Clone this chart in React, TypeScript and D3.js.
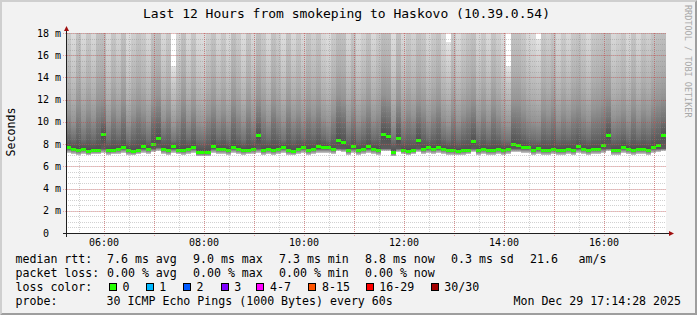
import React, { useEffect } from "react";
import * as d3 from "d3";

// ---------- data ----------
const TITLE = "Last 12 Hours from smokeping to Haskovo (10.39.0.54)";
const Y_LABEL = "Seconds";
const SIDE_TEXT = "RRDTOOL / TOBI OETIKER";
const START = new Date(2025, 11, 29, 5, 14, 28);
const END = new Date(2025, 11, 29, 17, 14, 28);
const STEP_MINUTES = 6;

// median round trip time per 6-minute column (ms)
const medianRtt = [
  7.7, 7.6, 7.5, 7.6, 7.4, 7.5, 7.5, 8.9, 7.5, 7.5,
  7.6, 7.7, 7.5, 7.4, 7.5, 7.8, 7.6, 8.0, 8.55, 7.6,
  7.5, 7.8, 7.5, 7.5, 7.6, 7.7, 7.3, 7.3, 7.3, 7.8,
  7.6, 7.6, 7.5, 7.7, 7.6, 7.5, 7.5, 7.6, 8.85, 7.5,
  7.6, 7.5, 7.6, 7.7, 7.5, 7.4, 7.6, 7.7, 7.5, 7.6,
  7.8, 7.7, 7.75, 7.6, 8.4, 8.15, 7.5, 7.8, 7.5, 7.6,
  7.8, 7.6, 7.5, 8.9, 8.7, 7.3, 8.55, 7.5, 7.4, 7.5,
  8.4, 7.6, 7.75, 7.6, 7.7, 7.6, 7.5, 7.5, 7.4, 7.5,
  7.5, 8.25, 7.5, 7.6, 7.5, 7.5, 7.6, 7.5, 7.6, 8.05,
  7.9, 7.7, 7.7, 7.5, 7.65, 7.5, 7.5, 7.6, 7.5, 7.5,
  7.6, 7.5, 7.8, 7.6, 7.5, 7.6, 7.6, 7.9, 8.85, 7.5,
  7.5, 7.75, 7.6, 7.5, 7.6, 7.6, 7.5, 7.75, 7.9, 8.8,
];

// smoke: lowest ping
const pingMin = [
  7.2, 7.1, 7.0, 7.1, 7.0, 7.1, 7.1, 7.2, 7.0, 7.1,
  7.1, 7.2, 7.0, 7.0, 7.1, 7.2, 7.1, 7.3, 7.4, 7.1,
  7.0, 7.2, 7.1, 7.0, 7.1, 7.2, 6.9, 6.9, 6.9, 7.2,
  7.1, 7.1, 7.0, 7.2, 7.1, 7.0, 7.1, 7.1, 7.2, 7.0,
  7.1, 7.0, 7.1, 7.2, 7.0, 7.0, 7.1, 7.2, 7.0, 7.1,
  7.2, 7.2, 7.2, 7.1, 7.4, 7.3, 7.0, 7.2, 7.0, 7.1,
  7.2, 7.1, 7.0, 7.4, 7.4, 6.9, 7.3, 7.1, 7.0, 7.1,
  7.3, 7.1, 7.2, 7.1, 7.2, 7.1, 7.0, 7.0, 7.0, 7.0,
  7.1, 7.3, 7.0, 7.1, 7.0, 7.0, 7.1, 7.0, 7.1, 7.3,
  7.3, 7.2, 7.2, 7.0, 7.1, 7.0, 7.0, 7.1, 7.0, 7.0,
  7.1, 7.0, 7.2, 7.1, 7.0, 7.1, 7.1, 7.2, 7.4, 7.0,
  7.0, 7.2, 7.1, 7.0, 7.1, 7.1, 7.0, 7.2, 7.3, 7.4,
];

// smoke: lower quartile ping
const pingQ25 = [
  7.6, 7.5, 7.4, 7.5, 7.3, 7.4, 7.4, 7.6, 7.4, 7.4,
  7.5, 7.6, 7.4, 7.3, 7.4, 7.6, 7.5, 7.6, 7.7, 7.5,
  7.4, 7.6, 7.4, 7.4, 7.5, 7.6, 7.2, 7.2, 7.2, 7.6,
  7.5, 7.5, 7.4, 7.6, 7.5, 7.4, 7.4, 7.5, 7.6, 7.4,
  7.5, 7.4, 7.5, 7.6, 7.4, 7.3, 7.5, 7.6, 7.4, 7.5,
  7.6, 7.6, 7.6, 7.5, 7.6, 7.6, 7.4, 7.6, 7.4, 7.5,
  7.6, 7.5, 7.4, 7.6, 7.6, 7.2, 7.6, 7.4, 7.3, 7.4,
  7.6, 7.5, 7.6, 7.5, 7.6, 7.5, 7.4, 7.4, 7.3, 7.4,
  7.4, 7.6, 7.4, 7.5, 7.4, 7.4, 7.5, 7.4, 7.5, 7.6,
  7.6, 7.6, 7.6, 7.4, 7.5, 7.4, 7.4, 7.5, 7.4, 7.4,
  7.5, 7.4, 7.6, 7.5, 7.4, 7.5, 7.5, 7.6, 7.6, 7.4,
  7.4, 7.6, 7.5, 7.4, 7.5, 7.5, 7.4, 7.6, 7.6, 7.6,
];

// smoke: upper ping levels (ms), from dense to sparse
const pingUp1 = [
  9.0, 8.6, 9.5, 8.5, 9.2, 8.7, 9.6, 10.1, 8.5, 9.4,
  8.8, 9.8, 8.4, 9.0, 9.6, 9.1, 8.5, 9.9, 10.3, 8.8,
  9.3, 8.3, 8.8, 9.7, 8.6, 9.4, 8.5, 8.4, 9.0, 9.6,
  8.7, 9.2, 8.5, 9.8, 8.9, 8.4, 9.4, 8.7, 10.2, 9.1,
  8.6, 9.7, 9.0, 8.4, 9.5, 8.7, 9.2, 8.6, 9.4, 8.9,
  9.5, 8.8, 8.4, 9.1, 10.4, 10.1, 8.7, 9.4, 8.5, 8.9,
  9.6, 8.7, 9.0, 10.6, 10.3, 8.4, 10.1, 8.7, 9.2, 8.9,
  10.0, 9.3, 8.6, 9.1, 9.7, 8.7, 8.4, 9.2, 8.5, 9.0,
  9.4, 10.0, 8.7, 9.2, 8.6, 9.5, 8.9, 8.4, 8.3, 9.8,
  9.6, 9.1, 8.7, 8.6, 8.4, 9.2, 8.9, 9.4, 8.6, 9.0,
  8.7, 9.2, 9.5, 8.9, 8.6, 9.2, 9.3, 9.6, 10.3, 8.7,
  8.9, 9.2, 8.6, 9.4, 8.7, 9.2, 8.9, 9.5, 9.8, 10.2,
];
const pingUp2 = [
  10.8, 10.0, 11.6, 10.2, 11.2, 10.4, 11.8, 12.0, 10.1, 11.4,
  10.5, 11.9, 9.9, 10.8, 11.6, 11.0, 10.1, 11.7, 12.3, 10.3,
  11.2, 9.6, 10.5, 11.9, 10.2, 11.4, 10.0, 9.8, 10.8, 11.7,
  10.4, 11.1, 10.1, 12.0, 10.9, 10.0, 11.5, 10.3, 12.2, 11.1,
  10.1, 11.8, 10.8, 10.0, 11.6, 10.4, 11.1, 10.2, 11.4, 10.7,
  11.6, 10.4, 9.9, 11.0, 12.4, 12.0, 10.2, 11.4, 10.1, 10.7,
  11.7, 10.3, 10.9, 12.5, 12.2, 9.9, 12.0, 10.3, 11.2, 10.6,
  11.9, 11.3, 10.2, 11.0, 11.8, 10.4, 9.8, 11.2, 10.1, 10.8,
  11.4, 12.0, 10.3, 11.2, 10.2, 11.6, 10.7, 10.0, 9.7, 11.8,
  11.8, 11.1, 10.4, 10.1, 9.9, 11.2, 10.7, 11.5, 10.2, 11.0,
  10.4, 11.2, 11.6, 10.8, 10.2, 11.2, 11.4, 11.8, 12.3, 10.4,
  10.7, 11.2, 10.2, 11.5, 10.4, 11.2, 10.7, 11.6, 12.0, 12.3,
];
const pingUp3 = [
  13.2, 12.0, 14.2, 12.3, 13.6, 12.5, 14.6, 14.9, 12.1, 13.9,
  12.7, 14.8, 11.8, 13.2, 14.2, 13.4, 12.2, 14.5, 15.1, 12.4,
  13.6, 11.3, 12.6, 14.7, 12.3, 13.9, 12.0, 11.7, 13.1, 14.4,
  12.5, 13.6, 12.1, 14.9, 13.3, 11.9, 14.0, 12.4, 15.0, 13.6,
  12.2, 14.5, 13.2, 12.0, 14.2, 12.5, 13.6, 12.3, 14.0, 13.0,
  14.2, 12.5, 11.9, 13.4, 15.1, 14.8, 12.3, 14.0, 12.1, 12.9,
  14.4, 12.4, 13.3, 15.3, 15.0, 11.9, 14.8, 12.4, 13.7, 12.8,
  14.6, 13.8, 12.3, 13.4, 14.5, 12.5, 11.8, 13.7, 12.2, 13.1,
  14.0, 14.8, 12.4, 13.7, 12.3, 14.2, 13.0, 12.1, 11.4, 14.5,
  14.5, 13.6, 12.5, 12.2, 11.8, 13.7, 13.0, 14.1, 12.3, 13.4,
  12.5, 13.7, 14.2, 13.2, 12.3, 13.7, 14.0, 14.5, 15.1, 12.5,
  12.9, 13.7, 12.3, 14.1, 12.5, 13.7, 13.0, 14.2, 14.7, 15.0,
];
const pingUp4 = [
  16.8, 14.6, 18.2, 15.0, 17.4, 15.3, 18.6, 18.9, 14.8, 17.8,
  15.6, 18.8, 14.3, 16.6, 18.1, 17.0, 15.0, 18.4, 19.2, 15.2,
  17.3, 13.2, 15.5, 18.7, 15.0, 17.8, 14.7, 14.2, 16.4, 18.3,
  15.4, 17.3, 14.8, 18.9, 16.9, 14.5, 17.9, 15.2, 19.0, 17.2,
  14.9, 18.4, 16.6, 14.6, 18.1, 15.3, 17.3, 15.0, 17.9, 16.3,
  18.1, 15.3, 14.4, 17.0, 19.1, 18.8, 15.1, 17.9, 14.8, 16.2,
  18.3, 15.2, 16.8, 19.3, 19.0, 14.5, 18.8, 15.2, 17.4, 16.0,
  18.6, 17.6, 15.0, 17.0, 18.4, 15.3, 14.2, 17.4, 14.9, 16.5,
  17.9, 18.8, 15.2, 17.4, 15.0, 18.1, 16.3, 14.8, 13.4, 18.4,
  18.4, 17.3, 15.3, 14.9, 14.4, 17.4, 16.3, 18.0, 15.0, 17.0,
  15.3, 17.4, 18.1, 16.6, 15.0, 17.4, 17.9, 18.4, 19.2, 15.3,
  16.2, 17.4, 15.0, 18.0, 15.3, 17.4, 16.3, 18.1, 18.7, 19.0,
];
const pingMax = [
  22, 19.0, 25, 19.2, 23, 19.5, 26, 27, 19.0, 24,
  20, 26, 18.8, 21, 24, 22.5, 19.2, 25, 28, 19.4,
  23, 15.0, 19.8, 26, 19.2, 24, 18.9, 18.6, 21, 25,
  19.6, 23, 19.0, 26, 22, 18.8, 24, 19.4, 27, 23,
  19.0, 25, 21, 18.8, 24, 19.5, 23, 19.2, 24, 21,
  24, 19.5, 18.7, 22.5, 27, 26, 19.3, 24, 19.0, 21,
  24, 19.4, 22, 28, 27, 18.8, 26, 19.4, 23, 21,
  25, 23.5, 19.2, 22.5, 25, 19.5, 17.2, 23, 19.0, 21.5,
  23, 26, 19.4, 23, 19.2, 24, 21, 18.9, 15.0, 25,
  25, 23, 19.5, 19.0, 17.5, 23, 21, 24, 19.2, 22,
  19.5, 23, 24, 21.5, 19.2, 23, 24, 25, 28, 19.5,
  20.5, 23, 19.2, 24, 19.5, 23, 21, 24, 26, 27,
];

const yTickValues = [0, 2, 4, 6, 8, 10, 12, 14, 16, 18];
const yTickLabels = ["0", "2 m", "4 m", "6 m", "8 m", "10 m", "12 m", "14 m", "16 m", "18 m"];

const rttStatValues = ["7.6", "9.0", "7.3", "8.8", "0.3"];
const rttStatNames = ["avg", "max", "min", "now", "sd"];
const amsValue = "21.6";
const lossStatValues = ["0.00", "0.00", "0.00", "0.00"];
const lossStatNames = ["avg", "max", "min", "now"];
const lossLabels = ["0", "1", "2", "3", "4-7", "8-15", "16-29", "30/30"];
const lossColors = ["#26ff00", "#00b8ff", "#0059ff", "#7e00ff", "#ff00ff", "#ff5500", "#ff0000", "#a10000"];
const probeText = "30 ICMP Echo Pings (1000 Bytes) every 60s";
const stampText = "Mon Dec 29 17:14:28 2025";

// ---------- layout ----------
const W = 697;
const H = 315;
const PL = 66, PR = 666, PT = 33, PB = 233;
const MONO = "'DejaVu Sans Mono', monospace";
const STAT_X = [107, 193, 279, 365, 451];
const LABEL_INK_X = [123.3, 160, 197.3, 235, 270.7, 322.7, 380, 445];
const LEG_Y = [263.2, 277, 290.8, 304.6];
// colours at: min, q25, median, up1, up2, up3, up4, max
const SMOKE_STOPS = ["#cacaca", "#5c5c5c", "#505050", "#727272", "#949494", "#aeaeae", "#c6c6c6", "#e4e4e4"];

export default function App() {
  useEffect(() => {
    document.body.style.margin = "0";
  }, []);

  const x = d3.scaleTime().domain([START, END]).range([PL, PR]);
  const y = d3.scaleLinear().domain([0, 18]).range([PB, PT]);

  const times = medianRtt.map((_, i) => d3.timeMinute.offset(START, i * STEP_MINUTES));

  const gradients: React.ReactNode[] = [];
  const smokeRects: React.ReactNode[] = [];
  const medianRects: React.ReactNode[] = [];
  medianRtt.forEach((m, i) => {
    const x0 = Math.round(x(times[i]));
    const x1 = Math.round(x(d3.timeMinute.offset(times[i], STEP_MINUTES)));
    const levels = [pingMin[i], pingQ25[i], m, pingUp1[i], pingUp2[i], pingUp3[i], pingUp4[i], pingMax[i]];
    const yLo = y(levels[0]);
    const yHi = y(levels[levels.length - 1]);
    const span = yLo - yHi;
    gradients.push(
      <linearGradient key={`g${i}`} id={`sg${i}`} gradientUnits="userSpaceOnUse" x1={0} x2={0} y1={yLo} y2={yHi}>
        {levels.map((lv, k) => (
          <stop key={k} offset={(yLo - y(lv)) / span} stopColor={SMOKE_STOPS[k]} />
        ))}
      </linearGradient>
    );
    smokeRects.push(
      <rect key={`s${i}`} x={x0} y={yHi} width={x1 - x0} height={span} fill={`url(#sg${i})`} />
    );
    const yc = Math.round(y(m));
    medianRects.push(
      <rect key={`m${i}`} x={x0} y={yc - 1.5} width={x1 - x0} height={3} fill={lossColors[0]} />
    );
  });

  const minorV = d3.timeMinute.every(30)!.range(START, END);
  const majorV = d3.timeHour.every(1)!.range(START, END);
  const labelV = d3.timeHour.every(2)!.range(START, END);
  const fmt = d3.timeFormat("%H:%M");
  const minorH = y.ticks(36).filter((v) => v > 0);
  const majorH = yTickValues.filter((v) => v > 0);

  return (
    <svg
      width={W}
      height={H}
      viewBox={`0 0 ${W} ${H}`}
      style={{ display: "block", position: "absolute", left: 0, top: 0 }}
      fontFamily={MONO}
    >
      <defs>
        <clipPath id="plotclip">
          <rect x={PL} y={PT} width={PR - PL} height={PB - PT} />
        </clipPath>
        {gradients}
      </defs>
      <rect x={0} y={0} width={W} height={H} fill="#f2f2f2" />
      <polygon points={`0,0 ${W},0 ${W - 2},2 2,2 2,${H - 2} 0,${H}`} fill="#cfcfcf" />
      <polygon points={`${W},0 ${W},${H} 0,${H} 2,${H - 2} ${W - 2},${H - 2} ${W - 2},2`} fill="#9e9e9e" />

      {/* canvas */}
      <rect x={PL} y={PT} width={PR - PL} height={PB - PT} fill="#ffffff" />

      <g clipPath="url(#plotclip)" shapeRendering="crispEdges">
        {smokeRects}
        {medianRects}
      </g>

      {/* grid */}
      <g shapeRendering="crispEdges" strokeWidth={1} strokeDasharray="1,1">
        {minorH.map((v) => (
          <line key={`mh${v}`} x1={PL} x2={PR} y1={Math.round(y(v)) + 0.5} y2={Math.round(y(v)) + 0.5} stroke="rgba(140,140,140,0.4)" />
        ))}
        {minorV.map((t) => (
          <line key={`mv${+t}`} x1={Math.round(x(t)) + 0.5} x2={Math.round(x(t)) + 0.5} y1={PT} y2={PB} stroke="rgba(140,140,140,0.4)" />
        ))}
        {majorH.map((v) => (
          <line key={`Mh${v}`} x1={PL - 3} x2={PR} y1={Math.round(y(v)) + 0.5} y2={Math.round(y(v)) + 0.5} stroke="rgba(220,40,40,0.38)" />
        ))}
        {majorV.map((t) => (
          <line key={`Mv${+t}`} x1={Math.round(x(t)) + 0.5} x2={Math.round(x(t)) + 0.5} y1={PT} y2={PB + 3} stroke="rgba(220,40,40,0.38)" />
        ))}
      </g>

      {/* axes */}
      <g shapeRendering="crispEdges">
        <line x1={PL - 3} x2={PR + 3} y1={PB + 0.5} y2={PB + 0.5} stroke="#202020" />
        <line x1={PL + 0.5} x2={PL + 0.5} y1={PT - 3} y2={PB + 4} stroke="#202020" />
      </g>
      <polygon points={`${PL - 2},${PT - 2} ${PL + 3},${PT - 2} ${PL + 0.5},${PT - 7}`} fill="#a01010" />
      <polygon points={`${PR + 3},${PB - 2} ${PR + 3},${PB + 3} ${PR + 8},${PB + 0.5}`} fill="#a01010" />

      {/* y tick labels */}
      {yTickValues.map((v, i) => (
        <text key={`yl${v}`} x={v === 0 ? 49 : 61} y={y(v) + 3.5} fontSize={10} textAnchor="end" fill="#000">
          {yTickLabels[i]}
        </text>
      ))}

      {/* x tick labels */}
      {labelV.map((t) => (
        <text key={`xl${+t}`} x={x(t)} y={245.5} fontSize={10} textAnchor="middle" fill="#000">
          {fmt(t)}
        </text>
      ))}

      {/* title */}
      <text x={346.5} y={18.3} fontSize={13} textAnchor="middle" fill="#000">
        {TITLE}
      </text>

      {/* y label */}
      <text transform="translate(14.5,132) rotate(-90)" fontSize={11.6} textAnchor="middle" fill="#000">
        {Y_LABEL}
      </text>

      {/* side text */}
      <text transform="translate(684.5,5) rotate(90)" fontSize={8.5} fill="#a8a8a8">
        {SIDE_TEXT}
      </text>

      {/* legend */}
      <g fontSize={11.6} fill="#000" style={{ whiteSpace: "pre" }}>
        <text x={15.5} y={LEG_Y[0]}>median rtt:</text>
        {rttStatValues.map((v, i) => (
          <text key={`r${i}`} x={STAT_X[i]} y={LEG_Y[0]}>{`${v} ms ${rttStatNames[i]}`}</text>
        ))}
        <text x={530} y={LEG_Y[0]}>{amsValue}</text>
        <text x={578.6} y={LEG_Y[0]}>am/s</text>

        <text x={15.5} y={LEG_Y[1]}>packet loss:</text>
        {lossStatValues.map((v, i) => (
          <text key={`l${i}`} x={STAT_X[i]} y={LEG_Y[1]}>{`${v} % ${lossStatNames[i]}`}</text>
        ))}

        <text x={15.5} y={LEG_Y[2]}>loss color:</text>
        {lossLabels.map((lab, i) => (
          <g key={`lc${i}`}>
            <rect x={LABEL_INK_X[i] - 14.3 + 0.5} y={283.5} width={7} height={7} fill={lossColors[i]} stroke="#000" strokeWidth={1} shapeRendering="crispEdges" />
            <text x={LABEL_INK_X[i] - 0.7} y={LEG_Y[2]}>{lab}</text>
          </g>
        ))}

        <text x={15.5} y={LEG_Y[3]}>probe:</text>
        <text x={106.6} y={LEG_Y[3]}>{probeText}</text>
        <text x={681} y={LEG_Y[3]} textAnchor="end">{stampText}</text>
      </g>
    </svg>
  );
}
